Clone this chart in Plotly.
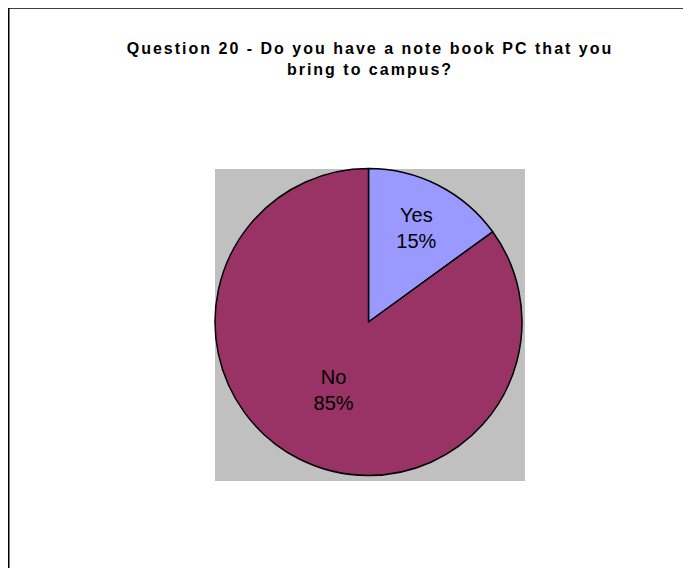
import plotly.graph_objects as go

labels = ["Yes", "No"]
values = [15, 85]
colors = ["#9999FF", "#993366"]
title_lines = ["Question 20 - Do you have a note book PC that you", "bring to campus?"]

W, H = 691, 568

def px_x(x):
    return x / W

def px_y(y):
    return 1 - y / H

title_html = "<br>".join(
    "<span style='letter-spacing:2px'>" + line + "</span>" for line in title_lines
)

fig = go.Figure(go.Pie(
    labels=labels,
    values=values,
    marker=dict(colors=colors, line=dict(color="black", width=1.5)),
    sort=False,
    direction="clockwise",
    rotation=0,
    textposition="inside",
    texttemplate="%{label}<br>%{percent:.0%}",
    insidetextorientation="horizontal",
    textfont=dict(family="Liberation Sans, Arial", size=20, color="black"),
    showlegend=False,
    hoverinfo="label+percent",
    domain=dict(x=[px_x(207), px_x(514)], y=[px_y(467.5), px_y(160.5)]),
))

fig.update_layout(
    width=W, height=H,
    margin=dict(l=0, r=0, t=0, b=0),
    paper_bgcolor="white",
    plot_bgcolor="white",
    title=dict(
        text=title_html,
        x=px_x(362), xanchor="center",
        y=px_y(46), yanchor="top",
        font=dict(family="Liberation Sans, Arial", size=16, color="black", weight="bold"),
    ),
    shapes=[
        dict(type="rect", xref="paper", yref="paper", layer="below",
             x0=px_x(207), x1=px_x(517), y0=px_y(473), y1=px_y(161),
             fillcolor="#C0C0C0", line=dict(width=0)),
        dict(type="rect", xref="paper", yref="paper", layer="above",
             x0=px_x(0.75), x1=1.2, y0=-0.2, y1=px_y(0),
             fillcolor="rgba(0,0,0,0)", line=dict(color="black", width=1.5)),
    ],
)

fig.write_html("out.html")
